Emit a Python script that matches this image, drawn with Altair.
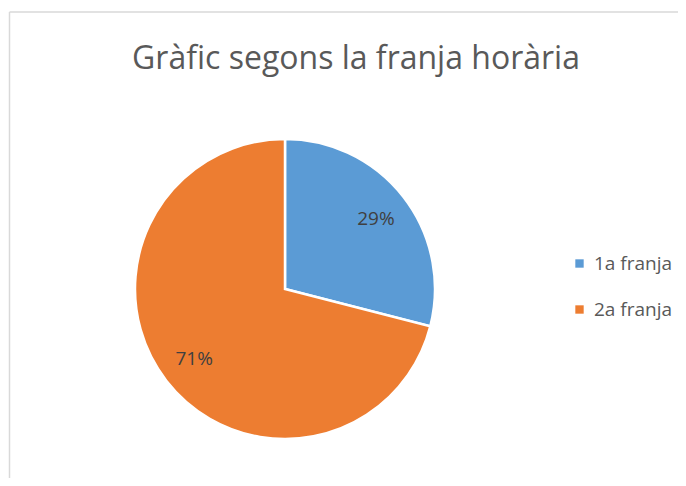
import altair as alt
import pandas as pd

categories = ["1a franja", "2a franja"]
values = [29, 71]
labels = ["29%", "71%"]
colors = ["#5B9BD5", "#ED7D31"]
title_text = "Gràfic segons la franja horària"

df = pd.DataFrame({"cat": categories, "val": values, "lab": labels, "ord": [0, 1]})

CX, CY, R = 277, 281, 150

base = alt.Chart(df).encode(
    theta=alt.Theta("val:Q", stack=True),
    order=alt.Order("ord:Q"),
)

color = alt.Color(
    "cat:N",
    scale=alt.Scale(domain=categories, range=colors),
    legend=alt.Legend(
        title=None,
        orient="none",
        legendX=562,
        legendY=246,
        symbolType="square",
        symbolSize=70,
        symbolStrokeWidth=0,
        labelFontSize=19,
        labelFont="Open Sans",
        labelColor="#595959",
        rowPadding=26,
        labelOffset=5,
    ),
)

arcs = base.mark_arc(stroke="white", strokeWidth=2.5, radius=R).encode(
    color=color, x=alt.value(CX), y=alt.value(CY)
)

texts = base.mark_text(
    radius=115, fontSize=19, font="Open Sans", color="#404040"
).encode(text="lab:N", x=alt.value(CX), y=alt.value(CY))

title = alt.Chart(pd.DataFrame({"t": [title_text]})).mark_text(
    fontSize=32, font="Open Sans", color="#595959", baseline="middle"
).encode(text="t:N", x=alt.value(348), y=alt.value(51))

left_border = alt.Chart(pd.DataFrame({"a": [0]})).mark_rule(
    color="#d9d9d9", strokeWidth=1.5
).encode(x=alt.value(1.5), y=alt.value(4), y2=alt.value(480))

top_border = alt.Chart(pd.DataFrame({"a": [0]})).mark_rule(
    color="#d9d9d9", strokeWidth=1.5
).encode(x=alt.value(1.5), x2=alt.value(680), y=alt.value(4))

chart = alt.layer(left_border, top_border, arcs, texts, title).properties(
    width=670, height=470, autosize=alt.AutoSizeParams(type="none"), padding=0
).configure_view(stroke=None)

chart.save("out.html", embed_options={"renderer": "svg", "actions": False})
